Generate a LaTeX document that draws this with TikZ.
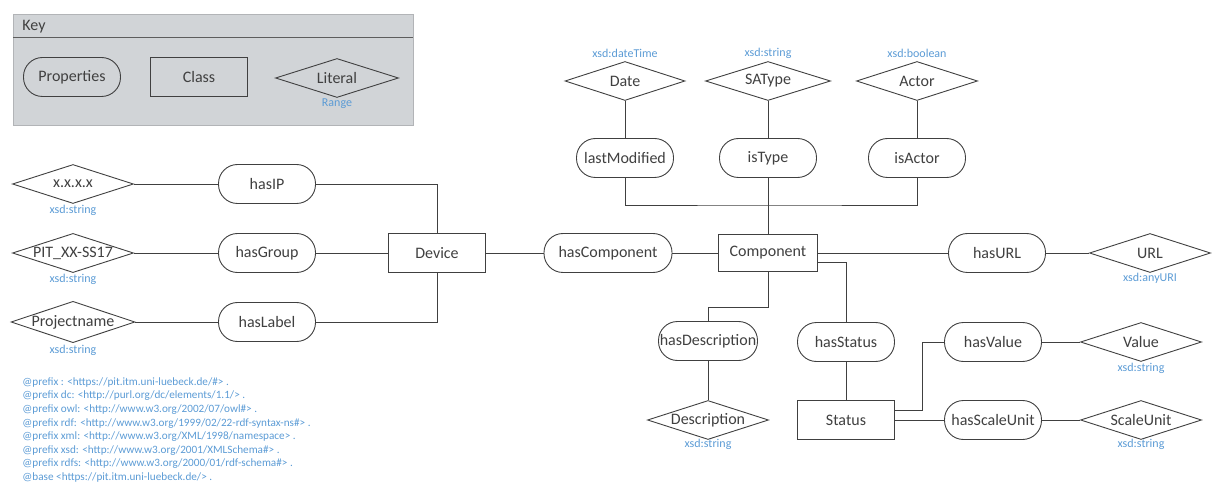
\documentclass[tikz,border=0pt]{standalone}
\usepackage{fontspec}
\setmainfont{Carlito}
\usetikzlibrary{shapes.geometric}
\definecolor{rangeblue}{HTML}{5B9BD5}
\definecolor{ink}{HTML}{404040}
\definecolor{keygrey}{HTML}{D1D4D7}

\begin{document}
\begin{tikzpicture}[x=1pt,y=-1pt,line width=0.9pt,
        every node/.style={text=ink,font=\fontsize{16}{18}\selectfont},
        prop/.style={draw=ink,fill=white,rectangle,rounded corners=19pt,minimum width=97pt,minimum height=39pt,inner sep=0pt},
        cls/.style={draw=ink,fill=white,rectangle,minimum width=97pt,minimum height=39pt,inner sep=0pt},
        lit/.style={draw=ink,fill=white,diamond,aspect=3,minimum width=121pt,minimum height=39pt,inner sep=0pt},
        rangetext/.style={text=rangeblue,font=\fontsize{12}{14}\selectfont,inner sep=0pt},
        link/.style={draw=ink}]
    \useasboundingbox (0,0) rectangle (1223,494);

    % key
    \draw[draw=keygrey!85!black,fill=keygrey,line width=0.5pt] (13,14) rectangle (413,125);
    \draw[draw=ink!85] (13,37) -- (413,37);
    \node[anchor=west,inner sep=0pt] (keytitle) at (22,27) {Key};
    \node[prop,fill=keygrey] (keyprop) at (72,77) {Properties};
    \node[cls,fill=keygrey] (keycls) at (199,77) {Class};
    \node[lit,fill=keygrey,minimum width=123pt] (keylit) at (337,78) {Literal};
    \node[rangetext] (keyrange) at (337,104) {Range};

    % device
    \node[cls] (device) at (437,253) {Device};
    \node[prop] (hasIP) at (267,184) {hasIP};
    \node[prop] (hasGroup) at (267,253) {hasGroup};
    \node[prop] (hasLabel) at (267,322) {hasLabel};
    \node[lit] (ip) at (73,184) {x.x.x.x};
    \node[lit] (group) at (73,253) {PIT\_XX-SS17};
    \node[lit] (projectname) at (73,322) {Projectname};
    \node[rangetext] (ipRange) at (73,210) {xsd:string};
    \node[rangetext] (groupRange) at (73,279) {xsd:string};
    \node[rangetext] (projectRange) at (73,350) {xsd:string};

    % component
    \node[prop,minimum width=128pt] (hasComponent) at (608,253) {hasComponent};
    \node[cls,minimum width=99pt,minimum height=37pt] (component) at (768,253) {Component};
    \node[prop] (lastModified) at (625,158) {lastModified};
    \node[prop] (isType) at (768,158) {isType};
    \node[prop] (isActor) at (917,158) {isActor};
    \node[lit,minimum width=120pt] (date) at (625,81) {Date};
    \node[lit,minimum width=125pt] (saType) at (768,81) {SAType};
    \node[lit] (actor) at (917,81) {Actor};
    \node[rangetext] (dateRange) at (625,53) {xsd:dateTime};
    \node[rangetext] (saTypeRange) at (768,53) {xsd:string};
    \node[rangetext] (actorRange) at (917,53) {xsd:boolean};
    \node[prop] (hasURL) at (997,253) {hasURL};
    \node[lit] (url) at (1150,253) {URL};
    \node[rangetext] (urlRange) at (1150,278) {xsd:anyURI};
    \node[prop,minimum width=99pt] (hasDescription) at (708,341) {hasDescription};
    \node[lit] (description) at (708,420) {Description};
    \node[rangetext] (descriptionRange) at (708,444) {xsd:string};

    % status
    \node[prop] (hasStatus) at (846,342) {hasStatus};
    \node[cls] (status) at (846,420) {Status};
    \node[prop] (hasValue) at (993,342) {hasValue};
    \node[prop] (hasScaleUnit) at (993,420) {hasScaleUnit};
    \node[lit] (value) at (1141,342) {Value};
    \node[lit] (scaleUnit) at (1141,420) {ScaleUnit};
    \node[rangetext] (valueRange) at (1141,368) {xsd:string};
    \node[rangetext] (scaleUnitRange) at (1141,444) {xsd:string};

    \coordinate (topbus) at (768,205);
    \coordinate (descbus) at (768,307);

    \draw[link] (ip) -- (hasIP);
    \draw[link] (group) -- (hasGroup);
    \draw[link] (projectname) -- (hasLabel);
    \draw[link] (hasIP.east) -| (device.north);
    \draw[link] (hasGroup) -- (device);
    \draw[link] (hasLabel.east) -| (device.south);
    \draw[link] (device) -- (hasComponent);
    \draw[link] (hasComponent) -- (component);
    \draw[link] (date) -- (lastModified);
    \draw[link] (saType) -- (isType);
    \draw[link] (actor) -- (isActor);
    \draw[link] (lastModified.south) |- (topbus) -| (isActor.south);
    \draw[link] (isType) -- (component);
    \draw[link] (component) -- (hasURL);
    \draw[link] (hasURL) -- (url);
    \draw[link] (component.south) -- (descbus) -| (hasDescription.north);
    \draw[link] (hasDescription) -- (description);
    \draw[link] ([yshift=-9pt]component.east) -| (hasStatus.north);
    \draw[link] (hasStatus) -- (status);
    \draw[link] ([yshift=10pt]status.east) -- ++(27,0) |- (hasValue.west);
    \draw[link] (status) -- (hasScaleUnit);
    \draw[link] (hasValue) -- (value);
    \draw[link] (hasScaleUnit) -- (scaleUnit);

    % prefixes
    \node[anchor=north west,align=left,inner sep=0pt,text=rangeblue,
        font=\fontsize{11.2}{13.6}\selectfont] (prefixes) at (22,377)
        {@prefix : <https://pit.itm.uni-luebeck.de/\#> .\\
         @prefix dc: <http://purl.org/dc/elements/1.1/> .\\
         @prefix owl: <http://www.w3.org/2002/07/owl\#> .\\
         @prefix rdf: <http://www.w3.org/1999/02/22-rdf-syntax-ns\#> .\\
         @prefix xml: <http://www.w3.org/XML/1998/namespace> .\\
         @prefix xsd: <http://www.w3.org/2001/XMLSchema\#> .\\
         @prefix rdfs: <http://www.w3.org/2000/01/rdf-schema\#> .\\
         @base <https://pit.itm.uni-luebeck.de/> .};
\end{tikzpicture}
\end{document}
